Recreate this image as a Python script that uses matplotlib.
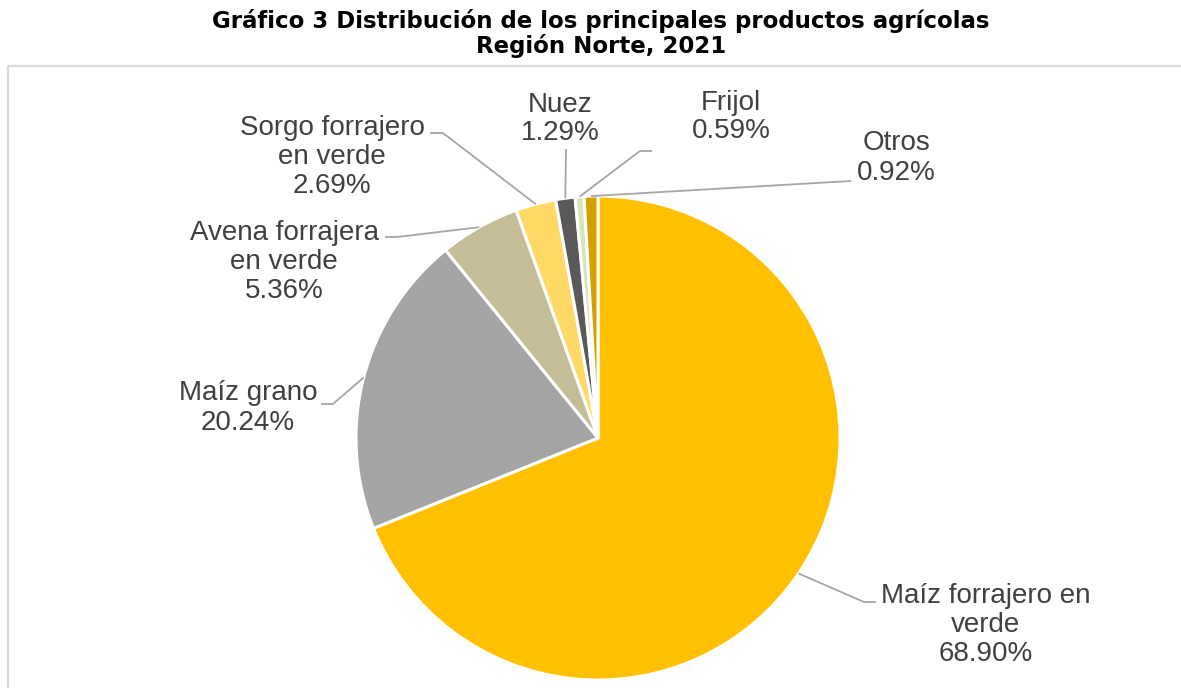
import numpy as np
import matplotlib
matplotlib.use("Agg")
import matplotlib.pyplot as plt

plt.rcParams['font.family'] = ['Liberation Sans', 'DejaVu Sans']

# ---- data ----
categories = ["Maíz forrajero en\nverde", "Maíz grano", "Avena forrajera\nen verde",
              "Sorgo forrajero\nen verde", "Nuez", "Frijol", "Otros"]
shares = [68.90, 20.24, 5.36, 2.69, 1.29, 0.59, 0.92]
colors = ["#FFC000", "#A5A5A5", "#C4BD97", "#FFD966", "#595959", "#D8E4BC", "#D4A000"]
title_lines = ["Gráfico 3 Distribución de los principales productos agrícolas",
               "Región Norte, 2021"]

W, H = 1181, 688
fig = plt.figure(figsize=(W / 100, H / 100), dpi=100)
ax = fig.add_axes([0, 0, 1, 1])

def py(y):  # pixel-from-top to data y
    return H - y

cx, cy, R = 598, py(438), 242
wedges, _ = ax.pie(shares, colors=colors, startangle=90, counterclock=False,
                   center=(cx, cy), radius=R,
                   explode=[0.015, 0, 0, 0, 0, 0, 0],
                   wedgeprops=dict(edgecolor="white", linewidth=2.2))
ax.set_xlim(0, W)
ax.set_ylim(0, H)
ax.set_aspect('equal')
ax.axis('off')

# label layout: (text center x, text center y, line points from label side)
layout = [
    (986, 625, [(876, 602), (864, 602)]),
    (248, 408, [(321, 404), (333, 404)]),
    (284, 262, [(385, 237), (397, 237)]),
    (332, 157, [(430, 133), (443, 133)]),
    (560, 119, [(566, 149)]),
    (731, 117, [(652, 151), (640, 151)]),
    (896, 158, [(851, 181)]),
]

for w, cat, val, (tx, ty, pts) in zip(wedges, categories, shares, layout):
    ang = np.deg2rad((w.theta1 + w.theta2) / 2)
    wx, wy = w.center
    ax_pt = (wx + w.r * np.cos(ang), wy + w.r * np.sin(ang))
    xs = [p[0] for p in pts] + [ax_pt[0]]
    ys = [py(p[1]) for p in pts] + [ax_pt[1]]
    ax.plot(xs, ys, color="#A6A6A6", lw=1.3, solid_capstyle='butt', zorder=1)
    ax.text(tx, py(ty), f"{cat}\n{val:.2f}%", ha="center", va="center",
            multialignment="center", fontsize=20, color="#404040", linespacing=1.15)

# chart border (extends past right/bottom)
ax.plot([8, 8, W + 10], [-10, py(66), py(66)], color="#D9D9D9", lw=1.6, clip_on=False)

for line, yy in zip(title_lines, [21, 46]):
    fig.text(601 / W, 1 - yy / H, line, ha="center", va="center", fontsize=16.5,
             fontweight="bold", color="black", family="DejaVu Sans")

fig.savefig("out.png", dpi=100)
